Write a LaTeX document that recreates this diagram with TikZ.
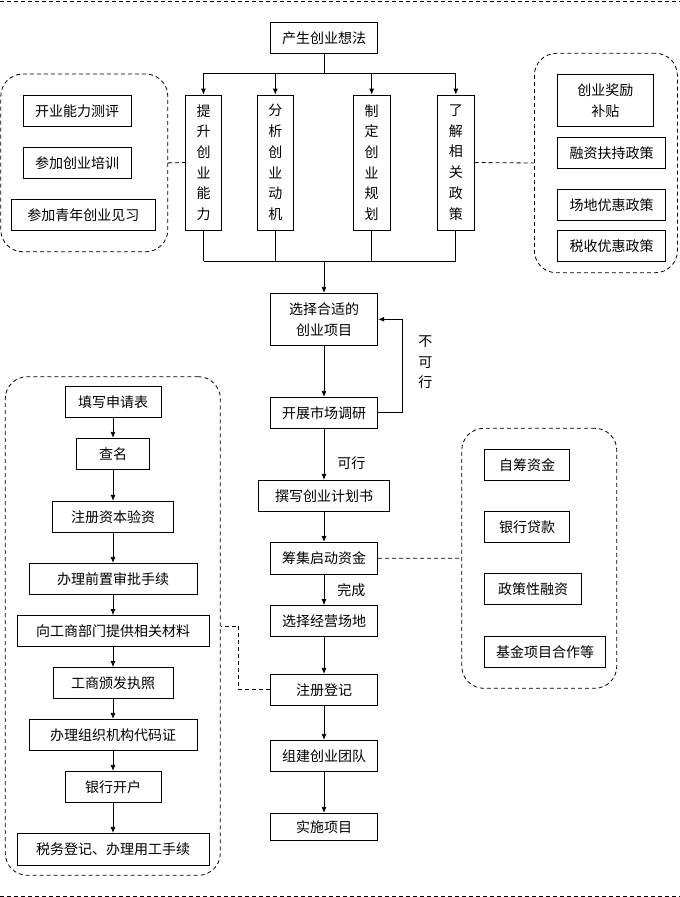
\documentclass[tikz,border=0pt]{standalone}
\usepackage{fontspec}
\newfontfamily\cjk{Noto Sans CJK SC}
\usepackage{tikz}
\usetikzlibrary{arrows.meta}

\begin{document}
\begin{tikzpicture}[x=1pt,y=-1pt,>={Latex[length=6pt,width=5pt]},line width=0.8pt,
box/.style={draw,inner sep=0pt,minimum height=31pt,align=center,font=\cjk\fontsize{14}{21}\selectfont},
vbox/.style={box,minimum width=36pt,minimum height=135pt,font=\cjk\fontsize{14}{20.7}\selectfont},
grp/.style={draw,dash pattern=on 4pt off 3pt,rounded corners=22pt,inner sep=0pt},
link/.style={dash pattern=on 4pt off 3pt},
lbl/.style={inner sep=0pt,align=center,font=\cjk\fontsize{14}{20.5}\selectfont}]
\useasboundingbox (0,0) rectangle (680,897);
\draw[link] (0,1) -- (680,1);
\draw[link] (0,896) -- (680,896);
% dashed groups
\node[grp,minimum width=167pt,minimum height=177.7pt] (skill) at (84.3,162.9) {};
\node[grp,minimum width=143pt,minimum height=219.4pt] (policy) at (605.9,163) {};
\node[grp,minimum width=155pt,minimum height=260pt] (money) at (539.3,558.3) {};
\node[grp,minimum width=215pt,minimum height=498.6pt] (license) at (112.8,626) {};
% main column
\node[box,minimum width=107.6pt] (idea) at (324,37.8) {产生创业想法};
\node[vbox] (ability) at (203.5,162.5) {提\\升\\创\\业\\能\\力};
\node[vbox] (motive) at (275.3,162.5) {分\\析\\创\\业\\动\\机};
\node[vbox,minimum width=36.7pt] (plan) at (371.7,162.5) {制\\定\\创\\业\\规\\划};
\node[vbox,minimum width=37pt] (know) at (455.8,162.5) {了\\解\\相\\关\\政\\策};
\node[box,minimum width=107.6pt,minimum height=52pt] (project) at (324,319.3) {选择合适的\\创业项目};
\node[box,minimum width=107.6pt] (survey) at (324,412.8) {开展市场调研};
\node[box,minimum width=131.4pt] (bizplan) at (324,495.8) {撰写创业计划书};
\node[box,minimum width=107.6pt,minimum height=31.7pt] (fund) at (324,558.2) {筹集启动资金};
\node[box,minimum width=107.6pt] (place) at (324,621) {选择经营场地};
\node[box,minimum width=107.5pt] (register) at (324,689.8) {注册登记};
\node[box,minimum width=107.5pt] (team) at (324,755.8) {组建创业团队};
\node[box,minimum width=107.5pt,minimum height=27pt] (launch) at (324,826.8) {实施项目};
% skills
\node[box,minimum width=108.4pt] (assess) at (77.2,111.2) {开业能力测评};
\node[box,minimum width=108.4pt] (train) at (77.2,163) {参加创业培训};
\node[box,minimum width=144pt] (intern) at (83.3,215) {参加青年创业见习};
% policies
\node[box,minimum width=96.3pt,minimum height=52.7pt] (award) at (605.4,100.3) {创业奖励\\补贴};
\node[box,minimum width=108.5pt] (finance) at (611.5,153) {融资扶持政策};
\node[box,minimum width=108.5pt] (venue) at (611.5,205) {场地优惠政策};
\node[box,minimum width=108.5pt] (tax) at (611.5,245.8) {税收优惠政策};
% funding
\node[box,minimum width=84.6pt,minimum height=31.7pt] (self) at (527.1,464.8) {自筹资金};
\node[box,minimum width=84.6pt,minimum height=31.7pt] (loan) at (527.1,526.8) {银行贷款};
\node[box,minimum width=96.7pt,minimum height=31.7pt] (aid) at (533.2,589) {政策性融资};
\node[box,minimum width=120.6pt,minimum height=30.6pt] (foundation) at (545.1,652) {基金项目合作等};
% registration steps
\node[box,minimum width=96.2pt] (apply) at (113,402) {填写申请表};
\node[box,minimum width=72.4pt] (name) at (113,453.8) {查名};
\node[box,minimum width=121pt] (capital) at (113,516.7) {注册资本验资};
\node[box,minimum width=167.8pt] (approve) at (113,578.8) {办理前置审批手续};
\node[box,minimum width=192.1pt] (submit) at (113,631) {向工商部门提供相关材料};
\node[box,minimum width=120.1pt] (permit) at (113,683) {工商颁发执照};
\node[box,minimum width=167.8pt] (code) at (113,734.8) {办理组织机构代码证};
\node[box,minimum width=96.2pt] (account) at (113,786.8) {银行开户};
\node[box,minimum width=192.1pt,minimum height=32pt] (taxreg) at (113,849.3) {税务登记、办理用工手续};
% connectors
\coordinate (split) at (324,73.3);
\coordinate (merge) at (324,261);
\draw (idea) -- (split);
\draw (ability |- split) -- (know |- split);
\foreach \n in {ability,motive,plan,know} {
  \draw[->] (\n |- split) -- (\n);
  \draw (\n) -- (\n |- merge);
}
\draw (ability |- merge) -- (know |- merge);
\draw[->] (merge) -- (project);
\draw[link] (skill.east) -- (ability.west);
\draw[link] (know.east) -- (policy.west);
\draw[->] (project) -- (survey);
\draw[->] (survey.east) -- ++(24,0) |- (project.east) node[lbl,pos=0.27,right=15.7pt] {不\\可\\行};
\draw[->] (survey) -- node[lbl,pos=0.67,right=13pt] {可行} (bizplan);
\draw[->] (bizplan) -- (fund);
\draw[link] (fund.east) -- (money.west);
\draw[->] (fund) -- node[lbl,pos=0.5,right=13pt] {完成} (place);
\draw[->] (place) -- (register);
\draw[link] (register.west) -- ++(-31.2,0) |- (license.east);
\draw[->] (register) -- (team);
\draw[->] (team) -- (launch);
\foreach \a/\b in {apply/name,name/capital,capital/approve,approve/submit,submit/permit,permit/code,code/account,account/taxreg}
  \draw[->] (\a) -- (\b);
\end{tikzpicture}
\end{document}
